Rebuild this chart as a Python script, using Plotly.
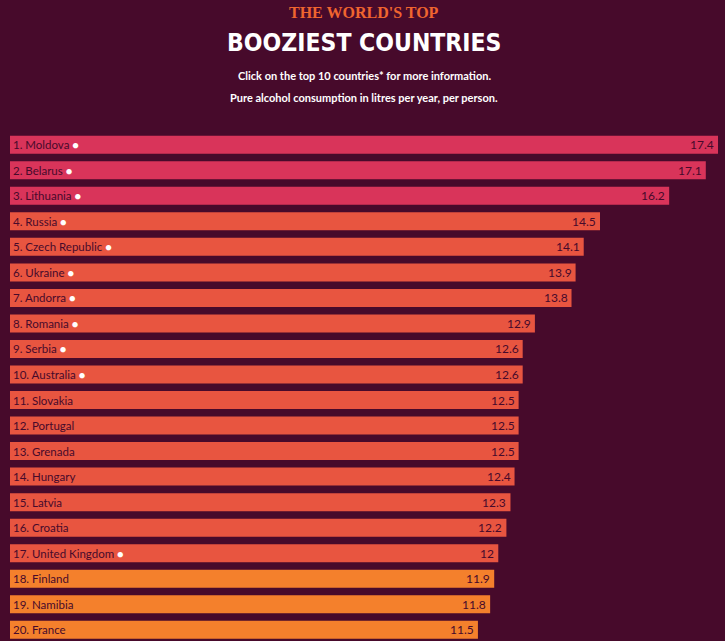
import plotly.graph_objects as go

countries = ["Moldova", "Belarus", "Lithuania", "Russia", "Czech Republic", "Ukraine",
             "Andorra", "Romania", "Serbia", "Australia", "Slovakia", "Portugal",
             "Grenada", "Hungary", "Latvia", "Croatia", "United Kingdom", "Finland",
             "Namibia", "France"]
values = [17.4, 17.1, 16.2, 14.5, 14.1, 13.9, 13.8, 12.9, 12.6, 12.6, 12.5, 12.5,
          12.5, 12.4, 12.3, 12.2, 12, 11.9, 11.8, 11.5]
value_labels = ["17.4", "17.1", "16.2", "14.5", "14.1", "13.9", "13.8", "12.9", "12.6",
                "12.6", "12.5", "12.5", "12.5", "12.4", "12.3", "12.2", "12", "11.9",
                "11.8", "11.5"]
has_info = [True] * 10 + [False] * 6 + [True] + [False] * 3

BG = "#470a2b"
PINK = "#d9345a"
RED = "#e85540"
ORANGE = "#f4802c"

colors = [PINK if v >= 15 else (RED if v >= 12 else ORANGE) for v in values]
cats = [f"{i+1}. {c}" for i, c in enumerate(countries)]

fig = go.Figure()
fig.add_trace(go.Bar(
    y=cats, x=values, orientation="h",
    marker=dict(color=colors, line=dict(width=0)),
    hoverinfo="skip",
))

annotations = []
for cat, info, v, vl in zip(cats, has_info, values, value_labels):
    label = cat
    if info:
        label += ' <span style="color:white;font-size:11px">●</span>'
    annotations.append(dict(
        x=0, y=cat, xref="x", yref="y", text=label, showarrow=False,
        xanchor="left", yanchor="middle", xshift=1,
        font=dict(family="Lato", size=11.5, color=BG),
    ))
    annotations.append(dict(
        x=v, y=cat, xref="x", yref="y", text=vl, showarrow=False,
        xanchor="right", yanchor="middle", xshift=-2,
        font=dict(family="Lato", size=12, color=BG),
    ))

fig.update_layout(
    width=725, height=641,
    paper_bgcolor=BG, plot_bgcolor=BG,
    margin=dict(l=10, r=7, t=132, b=0),
    showlegend=False,
    bargap=0.295,
    xaxis=dict(range=[0, 17.4], visible=False, fixedrange=True),
    yaxis=dict(range=[19.44, -0.5], visible=False, fixedrange=True,
               categoryorder="array", categoryarray=cats),
    annotations=annotations,
)

def top_text(text, y_px, font):
    plot_h = 641 - 132
    y = (641 - y_px) / plot_h
    fig.add_annotation(x=0.5, y=y, xref="paper", yref="paper", text=text, showarrow=False,
                       xanchor="center", yanchor="middle", font=font)

top_text("THE WORLD'S TOP",
         12, dict(family="Liberation Serif", size=16, color="#f0652f", weight=700))
top_text("BOOZIEST COUNTRIES",
         43, dict(family="DejaVu Sans Condensed", size=24.5, color="white", weight=700))
top_text("<b>Click on the top 10 countries* for more information.</b>", 75,
         dict(family="Lato", size=11, color="white"))
top_text("<b>Pure alcohol consumption in litres per year, per person.</b>", 98,
         dict(family="Lato", size=11, color="white"))

fig.write_html("out.html")
